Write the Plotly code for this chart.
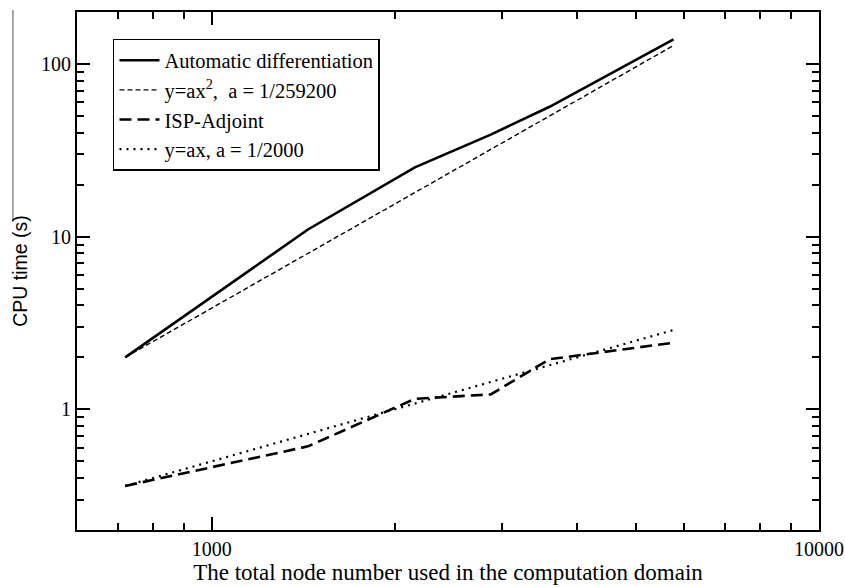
import plotly.graph_objects as go

# Mesh sizes (total node number) and CPU times
nodes = [720, 1440, 2160, 2880, 3600, 5760]
ad_time = [2.0, 11.0, 25.2, 39.0, 56.5, 139.0]
quad_fit = [2.0, 8.0, 18.0, 32.0, 50.0, 128.0]
isp_time = [0.36, 0.61, 1.15, 1.22, 1.95, 2.43]
lin_fit = [0.36, 0.72, 1.08, 1.44, 1.80, 2.88]

names = [
    "Automatic differentiation",
    "y=ax<sup>2</sup>,\u00a0\u00a0a = 1/259200",
    "ISP-Adjoint",
    "y=ax, a = 1/2000",
]

x_major = [1000, 10000]
x_minor = [700, 800, 900, 2000, 3000, 4000, 5000, 6000, 7000, 8000, 9000]
y_major = [1, 10, 100]
y_minor = [0.3, 0.4, 0.5, 0.6, 0.7, 0.8, 0.9,
           2, 3, 4, 5, 6, 7, 8, 9,
           20, 30, 40, 50, 60, 70, 80, 90]

x_range = [2.778, 4.0]
y_range = [-0.699, 2.301]

serif = "Liberation Serif, Times New Roman, serif"
sans = "Liberation Sans, Arial, sans-serif"

fig = go.Figure()
fig.add_trace(go.Scatter(x=nodes, y=ad_time, mode="lines", name=names[0],
                         line=dict(color="black", width=2.6)))
fig.add_trace(go.Scatter(x=nodes, y=quad_fit, mode="lines", name=names[1],
                         line=dict(color="black", width=1.4, dash="5px,3px")))
fig.add_trace(go.Scatter(x=nodes, y=isp_time, mode="lines", name=names[2],
                         line=dict(color="black", width=2.6, dash="12px,6px")))
fig.add_trace(go.Scatter(x=nodes, y=lin_fit, mode="lines", name=names[3],
                         line=dict(color="black", width=2.2, dash="2px,5px")))
# carrier for the overlaid short-tick axes
fig.add_trace(go.Scatter(x=[1000], y=[1], xaxis="x2", yaxis="y2", mode="none",
                         showlegend=False, hoverinfo="skip"))

axis_common = dict(
    showline=True, linecolor="black", linewidth=2,
    mirror="allticks", ticks="inside", tickwidth=1.6,
    tickcolor="black", showgrid=False, zeroline=False, automargin=False,
)
tick_font = dict(family=serif, size=20, color="black")

fig.update_layout(
    # decades: long labelled ticks
    xaxis=dict(
        type="log", range=x_range, tickmode="array",
        tickvals=x_major, ticktext=[str(v) for v in x_major], ticklen=13,
        tickfont=tick_font,
        title=dict(text="The total node number used in the computation domain",
                   font=dict(family=serif, size=23, color="black"), standoff=4),
        **axis_common,
    ),
    yaxis=dict(
        type="log", range=y_range, tickmode="array",
        tickvals=y_major, ticktext=[str(v) for v in y_major], ticklen=13,
        tickfont=tick_font,
        title=dict(text="CPU time (s)",
                   font=dict(family=sans, size=19.5, color="black"), standoff=8),
        **axis_common,
    ),
    # intermediate digits: short unlabelled ticks
    xaxis2=dict(
        type="log", range=x_range, overlaying="x", anchor="y", side="bottom",
        tickmode="array", tickvals=x_minor, ticklen=7, showticklabels=False,
        **axis_common,
    ),
    yaxis2=dict(
        type="log", range=y_range, overlaying="y", anchor="x", side="left",
        tickmode="array", tickvals=y_minor, ticklen=7, showticklabels=False,
        **axis_common,
    ),
)

# thin vertical rule at the far left edge
fig.add_shape(type="line", xref="paper", yref="paper",
              x0=-0.0863, x1=-0.0863, y0=1.004, y1=0.595,
              line=dict(color="#555555", width=1))

fig.update_layout(
    width=845, height=587,
    margin=dict(l=77, r=26, t=12, b=57),
    paper_bgcolor="white", plot_bgcolor="white",
    showlegend=True,
    legend=dict(x=0.0485, y=0.948, xanchor="left", yanchor="top",
                bgcolor="white", bordercolor="black", borderwidth=1.5,
                font=dict(family=serif, size=20.5, color="black"),
                itemwidth=40, tracegroupgap=0),
)

fig.write_html("out.html")
